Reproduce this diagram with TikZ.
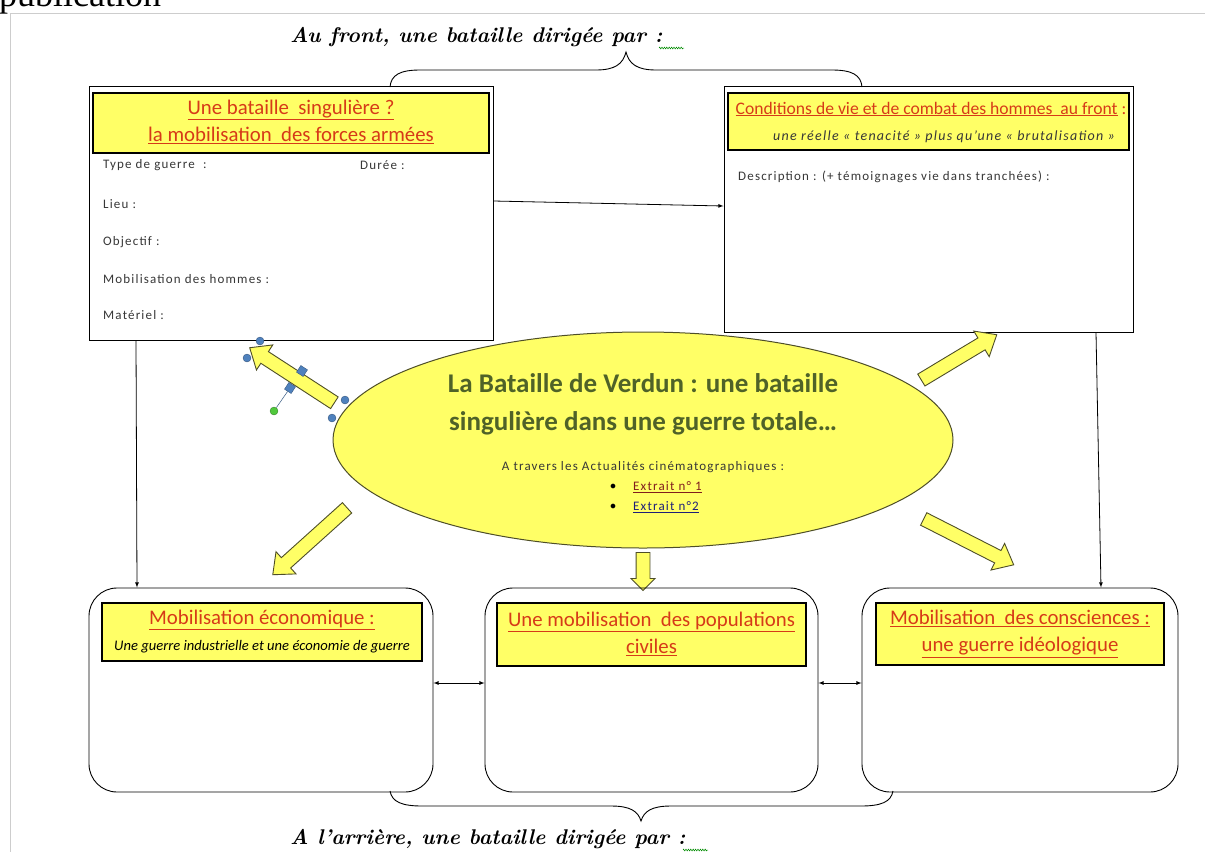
\documentclass[tikz,border=0pt]{standalone}
\usepackage{fontspec}
\newfontfamily\calibri{Carlito}
\newfontfamily\calibrisp[LetterSpace=9]{Carlito}
\newfontfamily\timesfont{Liberation Serif}
\usetikzlibrary{shapes.geometric,shapes.arrows,decorations.pathmorphing}
\definecolor{boxyellow}{RGB}{255,255,102}
\definecolor{headred}{RGB}{214,58,24}
\definecolor{olivetext}{RGB}{79,98,40}
\definecolor{arrowline}{RGB}{78,78,40}
\definecolor{handleblue}{RGB}{79,129,189}
\definecolor{handlegreen}{RGB}{80,200,60}
\definecolor{linkred}{RGB}{128,30,30}
\definecolor{linkblue}{RGB}{30,30,120}
\definecolor{pagegray}{RGB}{205,205,205}
\definecolor{bodygray}{RGB}{55,55,55}
\begin{document}
\begin{tikzpicture}[x=1pt,y=-1pt,
  framebox/.style={draw, line width=1pt, inner sep=0pt},
  headbox/.style={draw, line width=1.4pt, fill=boxyellow, inner sep=0pt},
  roundbox/.style={draw, line width=0.9pt, rounded corners=28pt, inner sep=0pt},
  lbl/.style={anchor=west, inner sep=0pt, text=bodygray, font=\calibrisp\fontsize{13}{15}\selectfont},
  headtxt/.style={inner sep=0pt, align=center, text=headred, font=\calibri\fontsize{20.8}{27}\selectfont},
  fronttxt/.style={inner sep=0pt, anchor=base west, font=\bfseries\itshape\fontsize{21.3}{24}\selectfont},
  bigarrow/.style={single arrow, draw=arrowline, fill=boxyellow, line width=0.9pt, single arrow head extend=8pt, single arrow tip angle=80, inner sep=0pt},
  link/.style={line width=0.8pt},
  wavy/.style={draw=green!55!black, line width=0.5pt, decorate, decoration={zigzag, amplitude=0.9pt, segment length=2.4pt}},
  handle/.style={circle, fill=handleblue, draw=handleblue!60!black, line width=0.3pt, minimum size=8pt, inner sep=0pt},
  sqhandle/.style={rectangle, fill=handleblue, draw=handleblue!60!black, line width=0.3pt, minimum size=8pt, inner sep=0pt}]
\useasboundingbox (0,0) rectangle (1205,852);
\fill[white] (0,0) rectangle (1205,852);

% page edge
\node[anchor=base west, inner sep=0pt, font=\timesfont\fontsize{36}{40}\selectfont] (pubtxt) at (-1,6) {publication};
\draw[pagegray, line width=1pt] (1205,13) -- (10,13) -- (10,852);

% titles and braces
\node[fronttxt] (fronttitle) at (290,42) {Au front, une bataille dirigée par :};
\draw[wavy] (659,48) -- (684,48);
\coordinate (fronttip) at (626,52);
\draw[line width=0.9pt] (390,87) .. controls (391,75) and (400,70) .. (420,70) -- (596,70) .. controls (615,70) and (623,64) .. (fronttip)
  .. controls (629,64) and (637,70) .. (656,70) -- (832,70) .. controls (852,70) and (861,75) .. (862,87);
\node[fronttxt] (reartitle) at (290,844) {A l'arrière, une bataille dirigée par :};
\draw[wavy] (683,850) -- (708,850);
\coordinate (reartip) at (641,821);
\draw[line width=0.9pt] (390,791) .. controls (392,802) and (402,806) .. (422,806) -- (611,806) .. controls (630,806) and (638,811) .. (reartip)
  .. controls (644,811) and (652,806) .. (671,806) -- (861,806) .. controls (881,806) and (891,802) .. (893,791);

% front boxes
\node[framebox, minimum width=404pt, minimum height=254pt] (frontbox) at (291,213) {};
\node[headbox, minimum width=396pt, minimum height=60pt] (fronthead) at (291,123) {};
\node[headtxt] (frontheadtxt) at (291,121.5) {\underline{Une bataille\ \ singulière ?}\\\underline{la mobilisation\ \ des forces armées}};
\node[lbl] (typelbl) at (103,165) {Type de guerre\ \ :};
\node[lbl] (dureelbl) at (360,165) {Durée :};
\node[lbl] (lieulbl) at (103,204) {Lieu :};
\node[lbl] (objlbl) at (103,242) {Objectif :};
\node[lbl] (hommeslbl) at (103,279) {Mobilisation des hommes :};
\node[lbl] (matlbl) at (103,315) {Matériel :};

\node[framebox, minimum width=409pt, minimum height=246pt] (viebox) at (928.5,209) {};
\node[headbox, minimum width=401pt, minimum height=57pt] (viehead) at (928.5,121.5) {};
\node[headtxt, font=\calibri\fontsize{17.6}{20}\selectfont] (vieheadtxt) at (931,109) {\underline{Conditions de vie et de combat des hommes\ \ au front} :};
\node[inner sep=0pt, text=bodygray, font=\calibrisp\itshape\fontsize{14}{16}\selectfont] (viesub) at (944,137) {une réelle « tenacité » plus qu’une « brutalisation »};
\node[lbl] (desclbl) at (738,177) {Description : (+ témoignages vie dans tranchées) :};

% centre
\node[ellipse, draw=arrowline, fill=boxyellow, line width=1pt, minimum width=620pt, minimum height=216pt, inner sep=0pt] (verdun) at (643,440) {};
\node[inner sep=0pt, align=center, text=olivetext, font=\calibri\bfseries\fontsize{27}{38}\selectfont] (verduntxt) at (643,404) {La Bataille de Verdun : une bataille\\singulière dans une guerre totale…};
\node[lbl, anchor=center] (actulbl) at (643,467) {A travers les Actualités cinématographiques :};
\node[inner sep=0pt, font=\fontsize{12}{14}\selectfont] (bul1) at (613,487) {$\bullet$};
\node[lbl, text=linkred] (ext1) at (633,487) {\underline{Extrait n° 1}};
\node[inner sep=0pt, font=\fontsize{12}{14}\selectfont] (bul2) at (613,507) {$\bullet$};
\node[lbl, text=linkblue] (ext2) at (633,507) {\underline{Extrait n°2}};

% block arrows
\node[bigarrow, minimum height=101pt, rotate=147] (arrfront) at (295.5,377.5) {\rule{0pt}{13pt}};
\node[bigarrow, minimum height=88pt, rotate=31] (arrvie) at (955.5,359.5) {\rule{0pt}{13pt}};
\node[bigarrow, minimum height=100pt, rotate=222] (arreco) at (313,538.5) {\rule{0pt}{13pt}};
\node[bigarrow, minimum height=38pt, single arrow head extend=5pt, single arrow tip angle=90, rotate=-90] (arrciv) at (643,568) {\rule{0pt}{13pt}};
\node[bigarrow, minimum height=101pt, rotate=-27] (arrcons) at (965,540) {\rule{0pt}{13pt}};

% selection handles
\node[handle] (hnd1) at (260,341) {};
\node[handle] (hnd2) at (247,358) {};
\node[handle] (hnd3) at (345,400) {};
\node[handle] (hnd4) at (332,418) {};
\node[sqhandle, rotate=-33] (hnd5) at (302,371) {};
\node[sqhandle, rotate=-33] (hnd6) at (290,388) {};
\node[handle, fill=handlegreen, draw=handlegreen!60!black] (hndrot) at (274,411) {};
\draw[handleblue!70!black, line width=0.5pt] (hnd6) -- (hndrot);

% rear boxes
\node[roundbox, minimum width=344pt, minimum height=204pt] (ecobox) at (261,690) {};
\node[headbox, minimum width=320pt, minimum height=58pt] (ecohead) at (262,632) {};
\node[headtxt] (ecoheadtxt) at (262,620) {\underline{Mobilisation économique :}};
\node[inner sep=0pt, font=\calibri\itshape\fontsize{14.6}{16}\selectfont] (ecosub) at (262,647) {Une guerre industrielle et une économie de guerre};

\node[roundbox, minimum width=333pt, minimum height=204pt] (civbox) at (651.5,690) {};
\node[headbox, minimum width=309pt, minimum height=63pt] (civhead) at (651.5,634.5) {};
\node[headtxt] (civheadtxt) at (651.5,634) {\underline{Une mobilisation\ \ des populations}\\\underline{civiles}};

\node[roundbox, minimum width=316pt, minimum height=204pt] (conbox) at (1020,690) {};
\node[headbox, minimum width=288pt, minimum height=62pt] (conhead) at (1020,634) {};
\node[headtxt] (conheadtxt) at (1020,634) {\underline{Mobilisation\ \ des consciences :}\\\underline{une guerre idéologique}};

% connectors
\draw[link, -latex] ([yshift=12pt]frontbox.east) -- ([yshift=3pt]viebox.west);
\draw[link, -latex] ([xshift=-155pt]frontbox.south) -- ([xshift=-124pt]ecobox.north);
\draw[link, -latex] ([xshift=167.5pt]viebox.south) -- ([xshift=81pt]conbox.north);
\draw[link, latex-latex] ([yshift=7pt]ecobox.east) -- ([yshift=7pt]civbox.west);
\draw[link, latex-latex] ([yshift=7pt]civbox.east) -- ([yshift=7pt]conbox.west);
\end{tikzpicture}
\end{document}
